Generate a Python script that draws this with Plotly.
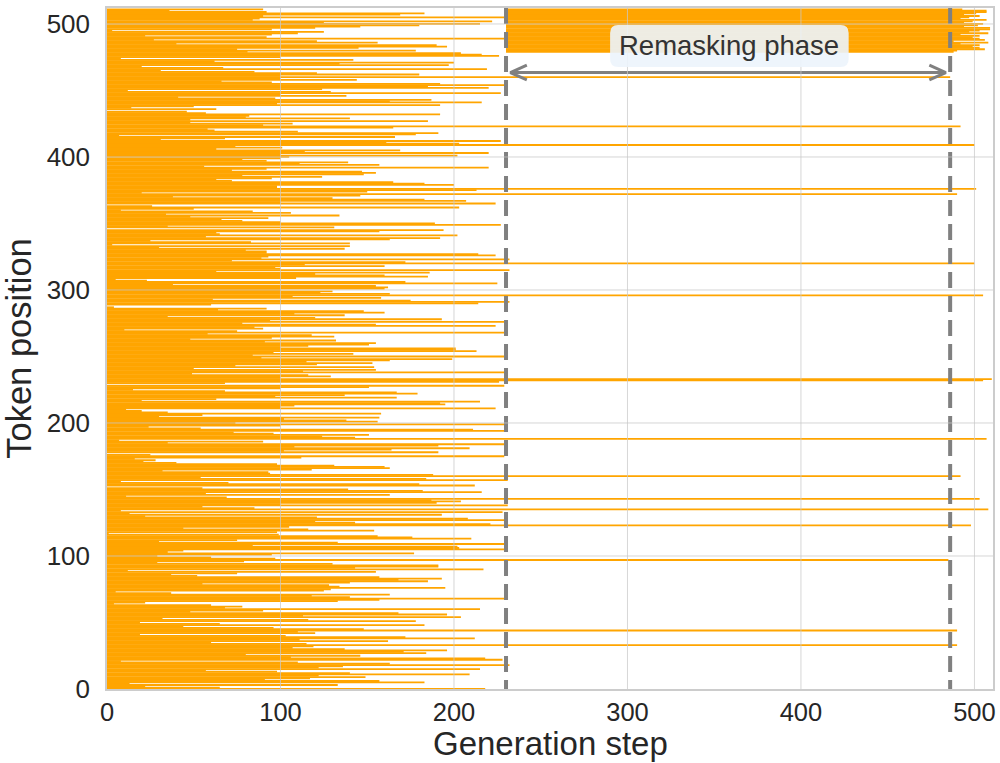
import plotly.graph_objects as go

# ---------------- data ----------------
positions = list(range(512))

# generation step at which each token position got unmasked (first phase), token 0..511
unmask_step = (
    [218, 65, 22, 133, 13, 183, 157, 91, 117, 149, 122, 209, 140, 98, 57, 215, 122, 136, 232, 163,
     110, 8, 228, 218, 106, 146, 80, 184, 171, 196, 137, 107, 119, 490, 115, 60, 162, 111, 212, 172,
     103, 19, 120, 110, 490, 148, 96]
    + [44, 183, 65, 19, 178, 116, 32, 204, 113, 196, 168, 48, 90, 215, 68, 78, 60, 4, 22, 133,
       157, 231, 140, 118, 163, 37, 5, 125, 129, 195, 134, 128, 55, 140, 185, 168, 193, 157, 52, 37,
       75, 155, 12, 217, 143, 191]
    + [191, 130, 29, 79, 485, 97, 60, 29, 95, 177, 35, 44, 230, 203, 202, 84, 231, 133, 30, 75,
       210, 176, 156, 99, 1, 98, 154, 116, 44, 105, 498, 221, 143, 120, 231, 208, 121, 22, 193, 13,
       228, 8, 508, 85, 55, 231, 100]
    + [190, 204, 187, 503, 69, 11, 163, 57, 216, 182, 139, 55, 0, 212, 180, 70, 8, 231, 184, 54,
       492, 188, 94, 93, 32, 118, 163, 160, 131, 98, 40, 21, 28, 16, 112, 229, 25, 0, 191, 102,
       164, 209, 108, 191, 229, 35, 90]
    + [7, 507, 143, 124, 151, 96, 73, 229, 211, 54, 24, 100, 231, 74, 156, 138, 102, 157, 30, 55,
       158, 35, 20, 11, 224, 100, 108, 195, 192, 215, 20, 63, 167, 97, 137, 179, 167, 68, 15, 100,
       151, 229, 0, 68, 226, 505]
    + [510, 100, 129, 116, 49, 231, 113, 155, 50, 154, 74, 121, 153, 115, 163, 199, 89, 229, 84, 142,
       96, 213, 201, 201, 100, 116, 151, 155, 91, 132, 48, 95, 131, 118, 58, 229, 75, 10, 90, 85,
       224, 155, 78, 229, 94, 193, 120]
    + [35, 137, 108, 160, 148, 64, 92, 4, 0, 60, 214, 232, 175, 61, 158, 107, 505, 163, 123, 130,
       100, 160, 162, 155, 38, 225, 172, 23, 5, 109, 185, 160, 120, 186, 63, 232, 100, 97, 160, 114,
       500, 172, 72, 232, 89, 93]
    + [224, 214, 92, 92, 80, 137, 30, 140, 3, 140, 83, 25, 163, 192, 57, 202, 65, 63, 157, 194,
       0, 131, 35, 227, 189, 100, 78, 66, 93, 48, 134, 34, 106, 84, 8, 50, 203, 26, 0, 224,
       100, 207, 183, 130, 38, 146, 490]
    + [20, 150, 213, 501, 98, 98, 200, 183, 165, 72, 63, 95, 124, 78, 148, 155, 147, 72, 92, 220,
       56, 157, 111, 139, 92, 78, 100, 105, 202, 100, 220, 114, 169, 63, 101, 74, 500, 203, 161, 227,
       31, 68, 166, 7, 178, 191, 110]
    + [62, 58, 165, 492, 90, 107, 48, 185, 48, 140, 80, 82, 192, 57, 46, 0, 63, 14, 50, 192,
       98, 216, 163, 187, 97, 41, 138, 100, 227, 129, 12, 124, 220, 185, 230, 192, 95, 66, 144, 100,
       486, 100, 180, 121, 85]
    + [31, 219, 67, 20, 197, 134, 200, 62, 142, 8, 100, 226, 216, 204, 81, 178, 75, 145, 196, 190,
       40, 156, 121, 27, 229, 92, 22, 95, 110, 125, 3, 95, 120, 146, 180, 215, 125, 222, 84, 88,
       229, 90, 169, 183, 92, 36, 90]
)
assert len(unmask_step) == len(positions), len(unmask_step)

# remasking phase
remask_start = 230
remask_stop = 486
remask_positions = list(range(479, 512))
remask_end = list(reversed(
    [493, 507, 507, 501, 494, 503, 497, 492, 507, 499, 494, 505, 502, 494, 509, 509, 503, 497,
     508, 492, 503, 499, 503, 506, 488, 508, 492, 503, 499, 503, 506, 490, 488]
))
phase_label = "Remasking phase"
arrow_y = 463.5

x_ticks = [0, 100, 200, 300, 400, 500]
y_ticks = [0, 100, 200, 300, 400, 500]
x_title = "Generation step"
y_title = "Token position"

# ---------------- figure ----------------
ORANGE = "#FFA500"
GRAY = "#808080"
TXT = "#262626"
FONT = "Liberation Sans, Arial, sans-serif"

xs, ys = [], []
for p, s in zip(positions, unmask_step):
    xs += [0, s, None]
    ys += [p, p, None]
for p, e in zip(remask_positions, remask_end):
    xs += [remask_start, e, None]
    ys += [p, p, None]

fig = go.Figure()
fig.add_trace(go.Scatter(x=xs, y=ys, mode="lines",
                         line=dict(color=ORANGE, width=1.8),
                         hoverinfo="skip", showlegend=False))

XMAX = 510.7
YMAX = 512

shapes = []
# grid lines drawn above the data (as in the reference)
for t in x_ticks[1:]:
    shapes.append(dict(type="line", xref="x", yref="y", x0=t, x1=t, y0=0, y1=YMAX,
                       line=dict(color="rgba(200,200,200,0.75)", width=1), layer="above"))
for t in y_ticks[1:]:
    shapes.append(dict(type="line", xref="x", yref="y", x0=0, x1=XMAX, y0=t, y1=t,
                       line=dict(color="rgba(200,200,200,0.75)", width=1), layer="above"))

# dashed phase boundaries
for xv in (remask_start, remask_stop):
    fig.add_trace(go.Scatter(x=[xv, xv], y=[YMAX, 0], mode="lines",
                             line=dict(color=GRAY, width=4, dash="16px,8px"),
                             hoverinfo="skip", showlegend=False))

# double-headed arrow
ax0, ax1 = remask_start + 2.5, remask_stop - 2.5
cw, ch = 9.5, 5.6
fig.add_trace(go.Scatter(
    x=[ax0, ax1, None, ax0 + cw, ax0, ax0 + cw, None, ax1 - cw, ax1, ax1 - cw],
    y=[arrow_y, arrow_y, None, arrow_y + ch, arrow_y, arrow_y - ch, None,
       arrow_y + ch, arrow_y, arrow_y - ch],
    mode="lines", line=dict(color=GRAY, width=3),
    hoverinfo="skip", showlegend=False))

# label box with rounded corners
bx0, bx1, by0, by1 = 290.0, 427.5, 467.7, 499.2
rx, ry = 4.6, 6.0
path = (f"M {bx0+rx},{by1} L {bx1-rx},{by1} Q {bx1},{by1} {bx1},{by1-ry} "
        f"L {bx1},{by0+ry} Q {bx1},{by0} {bx1-rx},{by0} L {bx0+rx},{by0} "
        f"Q {bx0},{by0} {bx0},{by0+ry} L {bx0},{by1-ry} Q {bx0},{by1} {bx0+rx},{by1} Z")
shapes.append(dict(type="path", xref="x", yref="y", path=path,
                   fillcolor="rgba(236,244,252,0.9)", line=dict(width=0), layer="above"))

fig.update_layout(
    shapes=shapes,
    annotations=[
        dict(x=(bx0 + bx1) / 2, y=(by0 + by1) / 2, xref="x", yref="y",
             text=phase_label, showarrow=False,
             font=dict(family=FONT, size=27.5, color="#333333")),
        # x-axis title placed just below the tick labels
        dict(x=0.5, y=-0.052, xref="paper", yref="paper", xanchor="center", yanchor="top",
             text=x_title, showarrow=False, borderpad=0,
             font=dict(family=FONT, size=33, color=TXT)),
    ],
    width=1000, height=763,
    margin=dict(l=107, r=7, t=8, b=74, autoexpand=False),
    paper_bgcolor="white", plot_bgcolor="white",
    font=dict(family=FONT, color=TXT),
    xaxis=dict(range=[0, XMAX], tickvals=x_ticks, ticktext=[str(t) for t in x_ticks],
               showgrid=False, zeroline=False, showline=True, linecolor="#cccccc",
               linewidth=1.5, mirror=True, ticks="", ticklabelstandoff=0,
               tickfont=dict(size=25.5, color=TXT, family=FONT),
               automargin=False),
    yaxis=dict(range=[0, YMAX], tickvals=y_ticks, ticktext=[str(t) for t in y_ticks],
               showgrid=False, zeroline=False, showline=True, linecolor="#cccccc",
               linewidth=1.5, mirror=True, ticks="", ticklabelstandoff=10,
               tickfont=dict(size=26, color=TXT, family=FONT),
               title=dict(text=y_title, font=dict(size=34.5, color=TXT, family=FONT),
                          standoff=5),
               automargin=False),
)

fig.write_html("out.html")
